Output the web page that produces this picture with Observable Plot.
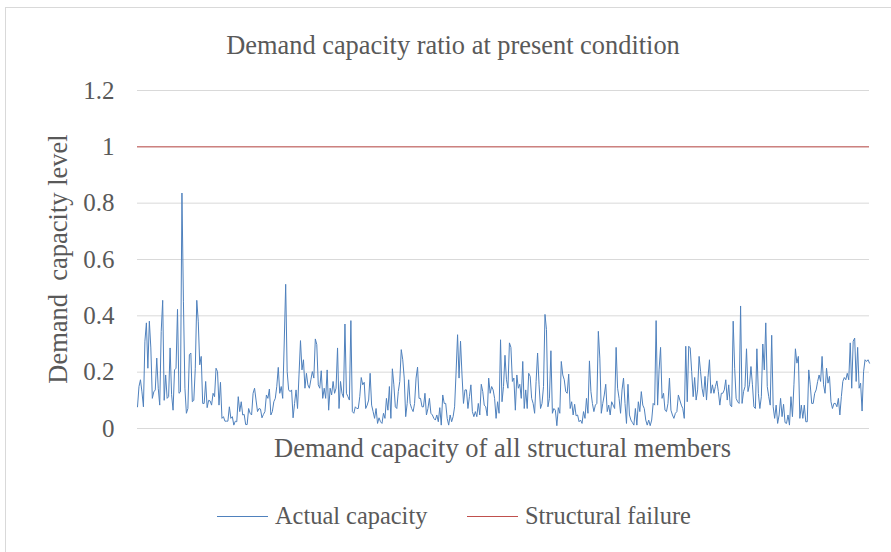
<!DOCTYPE html>
<html>
<head>
<meta charset="utf-8">
<script src="https://cdn.jsdelivr.net/npm/d3@7"></script>
<script src="https://cdn.jsdelivr.net/npm/@observablehq/plot@0.6"></script>
<style>
  html, body { margin: 0; padding: 0; background: #ffffff; overflow: hidden; }
  #page { position: relative; width: 891px; height: 552px; overflow: hidden; font-family: "Liberation Serif", "Times New Roman", serif; color: #595959; }
  #frame { position: absolute; left: 5px; top: 7px; width: 1000px; height: 700px; border-left: 1px solid #d9d9d9; border-top: 1px solid #d9d9d9; }
  #chart { position: absolute; left: 0; top: 0; }
  .txt { position: absolute; white-space: pre; line-height: 1; }
  .legline { position: absolute; height: 1px; }
</style>
</head>
<body>
<div id="page">
  <div id="frame"></div>
  <div id="chart"></div>
  <div id="title" class="txt"></div>
  <div id="ylabel" class="txt"></div>
  <div id="xlabel" class="txt"></div>
  <div id="legend"></div>
</div>
<script>
// ---- Data (demand/capacity ratio per structural member) ----
const actualCapacityA = [
  0.077,0.149,0.173,0.13,0.077,0.31,0.375,0.214,0.381,0.286,
  0.107,0.13,0.137,0.25,0.143,0.083,0.345,0.455,0.10,0.19,
  0.107,0.113,0.286,0.12,0.065,0.208,0.214,0.423,0.125,0.13,
  0.836,0.452,0.143,0.054,0.071,0.262,0.268,0.095,0.10,0.214,
  0.455,0.381,0.226,0.256,0.089,0.089,0.167,0.074,0.10,0.098,
  0.083,0.125,0.113,0.214,0.202,0.083,0.164,0.036,0.042,0.026,
  0.026,0.026,0.077,0.036,0.042,0.012,0.026,0.024,0.113,0.06,
  0.095,0.048,0.05,0.014,0.014,0.071,0.054,0.048,0.125
];
const actualCapacityB = [
  0.143,0.101,0.06,0.071,0.069,0.038,0.05,0.06,0.119,0.107,
  0.14,0.048,0.06,0.095,0.107,0.15,0.217,0.125,0.149,0.107,
  0.3,0.512,0.202,0.137,0.131,0.137,0.038,0.089,0.137,0.071,
  0.19,0.312,0.208,0.244,0.143,0.196,0.155,0.143,0.173,0.202,
  0.179,0.318,0.298,0.155,0.143,0.205,0.107,0.143,0.107,0.208,
  0.065,0.143,0.119,0.167,0.125,0.143,0.286,0.071,0.167,0.125,
  0.11,0.371,0.125,0.113,0.101,0.383,0.06,0.054,0.077,0.071,
  0.071,0.113,0.181,0.155,0.164,0.071,0.083,0.101,0.196,0.083
];
const actualCapacityC = [
  0.06,0.036,0.071,0.018,0.038,0.024,0.018,0.054,0.036,0.107,
  0.065,0.149,0.036,0.212,0.155,0.077,0.071,0.131,0.167,0.28,
  0.244,0.179,0.042,0.089,0.173,0.089,0.071,0.06,0.089,0.179,
  0.218,0.107,0.107,0.077,0.077,0.125,0.048,0.071,0.107,0.054,
  0.048,0.036,0.03,0.048,0.024,0.074,0.012,0.119,0.089,0.089,
  0.036,0.012,0.048,0.024,0.042,0.077,0.2,0.333,0.179,0.31,
  0.19,0.089,0.137,0.137,0.071,0.113,0.155,0.06,0.042,0.06,
  0.042,0.089,0.048,0.157,0.131,0.083,0.077,0.045,0.179,0.125,
  0.149,0.137
];
const actualCapacityD = [
  0.107,0.036,0.095,0.054,0.315,0.095,0.149,0.26,0.173,0.143,
  0.304,0.288,0.167,0.179,0.065,0.19,0.143,0.157,0.107,0.238,
  0.071,0.137,0.071,0.196,0.185,0.107,0.089,0.054,0.167,0.268,
  0.155,0.071,0.089,0.149,0.405,0.351,0.077,0.107,0.276,0.054,
  0.071,0.065,0.01,0.074,0.054,0.238,0.19,0.173,0.131,0.125,
  0.193,0.071,0.095,0.048,0.086,0.045,0.048,0.024,0.03,0.018,
  0.06,0.036,0.107,0.054,0.24,0.131,0.089,0.06,0.083,0.089,
  0.345,0.25,0.054,0.089,0.119,0.157,0.06,0.083,0.048,0.095,
  0.083
];
const actualCapacityE = [
  0.071,0.288,0.143,0.107,0.054,0.137,0.179,0.089,0.018,0.157,
  0.048,0.03,0.021,0.012,0.071,0.012,0.095,0.06,0.131,0.083,
  0.071,0.03,0.012,0.03,0.01,0.03,0.089,0.083,0.383,0.083,
  0.208,0.288,0.107,0.125,0.065,0.06,0.089,0.179,0.065,0.048,
  0.036,0.054,0.06,0.119,0.101,0.083,0.071,0.036,0.292,0.095,
  0.292,0.286,0.202,0.113,0.181,0.101,0.137,0.256,0.202,0.143,
  0.113,0.185,0.101,0.181,0.244,0.125,0.155,0.125,0.149,0.169,
  0.131,0.083,0.125,0.125,0.137,0.173,0.101,0.155,0.083,0.077,
  0.381,0.214
];
const actualCapacityF = [
  0.107,0.095,0.089,0.435,0.089,0.131,0.149,0.283,0.131,0.155,
  0.22,0.155,0.077,0.071,0.283,0.125,0.071,0.113,0.3,0.208,
  0.375,0.149,0.113,0.083,0.331,0.077,0.036,0.083,0.018,0.048,
  0.107,0.042,0.086,0.021,0.018,0.048,0.012,0.113,0.042,0.155,
  0.283,0.232,0.256,0.036,0.083,0.036,0.083,0.024,0.024,0.208,
  0.155,0.089,0.089,0.125,0.137,0.167,0.19,0.167,0.256,0.155,
  0.125,0.214,0.161,0.185,0.095,0.071,0.089,0.089,0.077,0.107,
  0.048,0.113,0.167,0.181,0.173,0.196,0.173,0.304,0.143,0.31,
  0.321,0.167,0.288,0.143,0.161,0.062,0.202,0.244,0.238,0.244,
  0.232
];
const structuralFailure = [1];
const yTicks = [0, 0.2, 0.4, 0.6, 0.8, 1, 1.2];
const yTickLabels = ["0", "0.2", "0.4", "0.6", "0.8", "1", "1.2"];
const titleText = "Demand capacity ratio at present condition";
const xTitle = "Demand capacity of all structural members";
const yTitle = "Demand  capacity level";
const seriesNames = ["Actual capacity", "Structural failure"];
const seriesColors = ["#4F81BD", "#C0504D"];

// ---- Build table ----
const ratio = [].concat(actualCapacityA, actualCapacityB, actualCapacityC, actualCapacityD, actualCapacityE, actualCapacityF);
const table = ratio.map((v, i) => ({member: i + 1, value: v}));
const N = table.length;

const chart = Plot.plot({
  width: 891,
  height: 552,
  marginLeft: 137,
  marginRight: 22,
  marginTop: 90,
  marginBottom: 124,
  style: {fontFamily: "'Liberation Serif', 'Times New Roman', serif", background: "transparent", color: "#595959"},
  x: {domain: [1, N], axis: null},
  y: {domain: [0, 1.2], axis: null},
  marks: [
    Plot.gridY(yTicks, {stroke: "#d9d9d9", strokeOpacity: 1, strokeWidth: 1}),
    Plot.axisY(yTicks, {
      tickSize: 0, tickPadding: 23, fontSize: 25, fill: "#595959", label: null,
      tickFormat: d => yTickLabels[yTicks.indexOf(d)]
    }),
    Plot.ruleY(structuralFailure, {stroke: seriesColors[1], strokeWidth: 1}),
    Plot.lineY(table, {x: "member", y: "value", stroke: seriesColors[0], strokeWidth: 1})
  ]
});
document.getElementById("chart").appendChild(chart);

// ---- Texts (baseline positioning helper for Liberation Serif, line-height 1) ----
const BASE = 0.8375;
function place(el, text, size, cx, baseline) {
  el.textContent = text;
  el.style.fontSize = size + "px";
  el.style.left = cx + "px";
  el.style.top = (baseline - BASE * size) + "px";
  el.style.transform = "translateX(-50%)";
}
place(document.getElementById("title"), titleText, 26.4, 453, 54);
place(document.getElementById("xlabel"), xTitle, 26.5, 502.5, 457);

const yl = document.getElementById("ylabel");
yl.textContent = yTitle;
yl.style.fontSize = "26.5px";
yl.style.left = "58px";
yl.style.top = "259px";
yl.style.transform = "translate(-50%, -50%) rotate(-90deg)";

// ---- Legend ----
const legend = document.getElementById("legend");
const legendItems = [
  {lineX: 217, textX: 275},
  {lineX: 467, textX: 525}
];
seriesNames.forEach((name, i) => {
  const line = document.createElement("div");
  line.className = "legline";
  line.style.left = legendItems[i].lineX + "px";
  line.style.top = "516px";
  line.style.width = "51px";
  line.style.background = seriesColors[i];
  legend.appendChild(line);
  const t = document.createElement("div");
  t.className = "txt";
  t.textContent = name;
  t.style.fontSize = "24.4px";
  t.style.left = legendItems[i].textX + "px";
  t.style.top = (524.3 - BASE * 24.4) + "px";
  legend.appendChild(t);
});
</script>
</body>
</html>
